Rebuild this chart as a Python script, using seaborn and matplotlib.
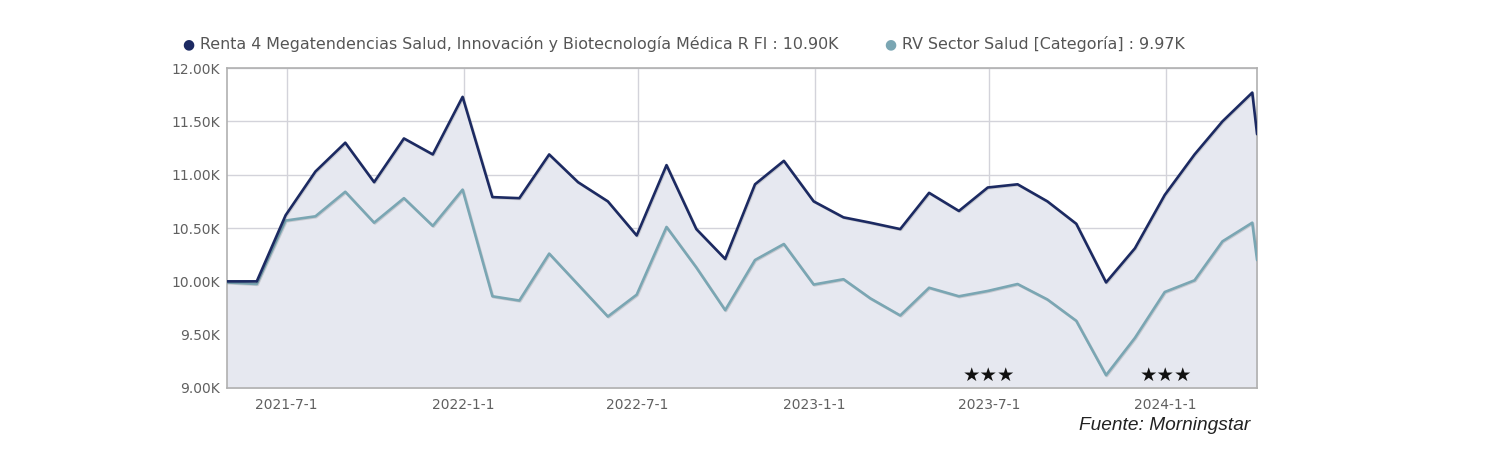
import pandas as pd
import seaborn as sns
import matplotlib.pyplot as plt
import matplotlib.patheffects as pe
from matplotlib.ticker import FuncFormatter

# Month-end values (in thousands)
dates = list(pd.date_range('2021-04-30', '2024-03-31', freq='ME')) + [pd.Timestamp('2024-04-05')]
fondo = [10.00, 10.00, 10.62, 11.03, 11.30, 10.93, 11.34, 11.19, 11.73,
         10.79, 10.78, 11.19, 10.93, 10.75, 10.43, 11.09, 10.49, 10.21,
         10.91, 11.13, 10.75, 10.60, 10.55, 10.49, 10.83, 10.66, 10.88,
         10.91, 10.75, 10.54, 9.99, 10.31, 10.81, 11.19, 11.50, 11.77, 11.38]
categoria = [9.99, 9.975, 10.57, 10.61, 10.84, 10.55, 10.78, 10.52, 10.86,
             9.86, 9.82, 10.26, 9.97, 9.67, 9.875, 10.51, 10.13, 9.73,
             10.20, 10.35, 9.97, 10.02, 9.84, 9.68, 9.94, 9.86, 9.91,
             9.975, 9.83, 9.63, 9.12, 9.47, 9.90, 10.01, 10.375, 10.55, 10.20]

label_fondo = 'Renta 4 Megatendencias Salud, Innovación y Biotecnología Médica R FI : 10.90K'
label_cat = 'RV Sector Salud [Categoría] : 9.97K'

tick_dates = pd.to_datetime(['2021-07-01', '2022-01-01', '2022-07-01',
                             '2023-01-01', '2023-07-01', '2024-01-01'])
tick_labels = ['2021-7-1', '2022-1-1', '2022-7-1', '2023-1-1', '2023-7-1', '2024-1-1']
star_dates = pd.to_datetime(['2023-07-01', '2024-01-01'])

df = pd.DataFrame({'fecha': dates, 'fondo': fondo, 'categoria': categoria})

c_fondo = '#1c2a62'
c_cat = '#7aa6b3'

sns.set_theme(style='white')
plt.rcParams['font.family'] = ['DejaVu Sans']

fig = plt.figure(figsize=(15.1, 4.63), dpi=100)
ax = fig.add_axes([0.1503, 0.162, 0.6822, 0.691])

# shaded area under the fund line
ax.fill_between(df['fecha'], df['fondo'], 9.0, color='#e6e8f0', zorder=1)

shadow = [pe.SimpleLineShadow(offset=(0.6, -0.6), alpha=0.15), pe.Normal()]
sns.lineplot(data=df, x='fecha', y='categoria', color=c_cat, linewidth=1.9,
             ax=ax, zorder=3, path_effects=shadow)
sns.lineplot(data=df, x='fecha', y='fondo', color=c_fondo, linewidth=1.9,
             ax=ax, zorder=4, path_effects=shadow)

ax.set_xlim(dates[0], dates[-1])
ax.set_ylim(9.0, 12.0)
ax.set_yticks([9.0, 9.5, 10.0, 10.5, 11.0, 11.5, 12.0])
ax.yaxis.set_major_formatter(FuncFormatter(lambda v, p: f'{v:.2f}K'))
ax.set_xticks(tick_dates)
ax.set_xticklabels(tick_labels)
ax.set_xlabel('')
ax.set_ylabel('')
ax.grid(True, color='#d3d3da', linewidth=1.0, zorder=2)
for gl in ax.get_xgridlines() + ax.get_ygridlines():
    gl.set_zorder(2)
ax.tick_params(axis='both', length=0, labelsize=10, labelcolor='#606060')
ax.tick_params(axis='y', pad=5)
ax.tick_params(axis='x', pad=7)
for s in ax.spines.values():
    s.set_color('#b0b0b0')
    s.set_linewidth(1.2)

# rating stars
for d in star_dates:
    ax.text(d, 9.12, '★★★', ha='center', va='center', fontsize=14, color='#111111', zorder=5)

# legend
fig.text(188 / 1510, 1 - 44 / 463, '●', color=c_fondo, fontsize=10, ha='center', va='center')
fig.text(200 / 1510, 1 - 44 / 463, label_fondo, color='#555555', fontsize=11.4, ha='left', va='center')
fig.text(890 / 1510, 1 - 44 / 463, '●', color=c_cat, fontsize=10, ha='center', va='center')
fig.text(902 / 1510, 1 - 44 / 463, label_cat, color='#555555', fontsize=11.4, ha='left', va='center')

# source
fig.text(1250 / 1510, 1 - 425 / 463, 'Fuente: Morningstar', fontsize=13.8, style='italic',
         color='#222222', ha='right', va='center', family=['Liberation Sans', 'DejaVu Sans'])

fig.savefig('out.png', dpi=100)
